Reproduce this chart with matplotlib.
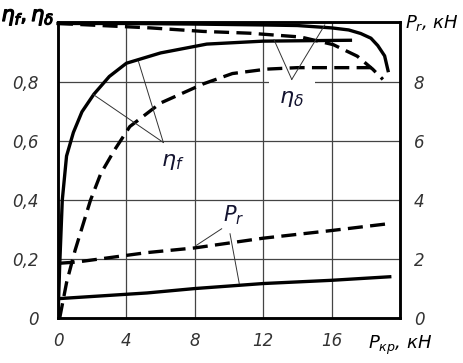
import matplotlib
matplotlib.use("Agg")
import matplotlib.pyplot as plt
import matplotlib.patheffects as pe

# --- data (x: P_kr, kN; left axis: efficiency; right axis: P_r, kN) ---
eta_f_solid_x = [0, 0.1, 0.25, 0.5, 0.9, 1.4, 2.1, 3.0, 4.0, 6.0, 8.7, 12.0, 17.1]
eta_f_solid_y = [0, 0.18, 0.40, 0.55, 0.63, 0.70, 0.76, 0.82, 0.865, 0.90, 0.93, 0.94, 0.943]

eta_f_dash_x = [0.1, 0.5, 1.0, 1.9, 2.5, 3.3, 4.2, 6.0, 8.5, 10.2, 12.2, 14.0, 16.0, 18.7]
eta_f_dash_y = [0.0, 0.12, 0.23, 0.40, 0.49, 0.57, 0.65, 0.73, 0.795, 0.83, 0.845, 0.85, 0.85, 0.85]

eta_d_solid_x = [0, 4, 8, 12, 14, 16, 17, 17.7, 18.3, 18.7, 19.1, 19.3]
eta_d_solid_y = [1.0, 1.0, 0.998, 0.995, 0.993, 0.985, 0.978, 0.966, 0.95, 0.925, 0.89, 0.84]

eta_d_dash_x = [0, 5.4, 8.5, 11.2, 14.2, 16.1, 17.5, 18.4, 19.0]
eta_d_dash_y = [1.0, 0.985, 0.973, 0.967, 0.954, 0.928, 0.889, 0.845, 0.81]

pr_dash_x = [0.1, 1.1, 5.2, 8.0, 12.0, 16.0, 19.3]
pr_dash_y = [1.86, 1.9, 2.22, 2.38, 2.71, 2.97, 3.2]

pr_solid_x = [0.1, 5.2, 8.0, 12.0, 16.0, 19.4]
pr_solid_y = [0.66, 0.85, 1.0, 1.17, 1.28, 1.4]

x_ticks = [0, 4, 8, 12, 16]
x_tick_labels = ["0", "4", "8", "12", "16"]
left_ticks = [0, 0.2, 0.4, 0.6, 0.8]
left_tick_labels = ["0", "0,2", "0,4", "0,6", "0,8"]
right_ticks = [0, 2, 4, 6, 8]
right_tick_labels = ["0", "2", "4", "6", "8"]

fig = plt.figure(figsize=(4.64, 3.63), dpi=100)
ax = fig.add_axes([58/464, 1-318/363, (400-58)/464, (318-22)/363])
ax.set_xlim(0, 20)
ax.set_ylim(0, 1.005)
ax2 = ax.twinx()
ax2.set_ylim(0, 10.05)

lw = 2.4
dash = (0, (4.5, 2.2))
ax.plot(eta_f_solid_x, eta_f_solid_y, color="black", lw=lw, zorder=5)
ax.plot(eta_f_dash_x, eta_f_dash_y, color="black", lw=lw, ls=dash, zorder=5)
ax.plot(eta_d_solid_x, eta_d_solid_y, color="black", lw=lw, zorder=5, clip_on=False)
ax.plot(eta_d_dash_x, eta_d_dash_y, color="black", lw=lw, ls=dash, zorder=5, clip_on=False)
ax2.plot(pr_dash_x, pr_dash_y, color="black", lw=lw, ls=dash, zorder=5)
ax2.plot(pr_solid_x, pr_solid_y, color="black", lw=lw, zorder=5)

# grid
for xv in x_ticks[1:]:
    ax.axvline(xv, color="#444444", lw=0.9, zorder=1)
for yv in left_ticks[1:]:
    ax.axhline(yv, color="#444444", lw=0.9, zorder=1)

tick_font = dict(fontsize=12, style="italic", color="#333333", family="DejaVu Sans", fontweight="light")
ax.set_xticks(x_ticks)
ax.set_xticklabels(x_tick_labels, **tick_font)
ax.set_yticks(left_ticks)
ax.set_yticklabels(left_tick_labels, **tick_font)
ax2.set_yticks(right_ticks)
ax2.set_yticklabels(right_tick_labels, **tick_font)
ax.tick_params(axis="x", length=0, pad=10)
ax.tick_params(axis="y", length=0, pad=14)
ax2.tick_params(axis="y", length=0, pad=10)
for a in (ax, ax2):
    for s in a.spines.values():
        s.set_linewidth(1.8)
        s.set_color("black")

# leader lines
lead = dict(color="#333333", lw=0.7, zorder=6)
ax.plot([6.16, 2.06], [0.596, 0.759], **lead)
ax.plot([6.16, 4.70], [0.596, 0.872], **lead)
ax.plot([13.67, 12.63], [0.81, 0.945], **lead)
ax.plot([13.67, 15.6], [0.81, 0.995], **lead)
ax2.plot([9.57, 8.1], [3.03, 2.47], **lead)
ax2.plot([10.06, 10.6], [2.86, 1.17], **lead)

lab_col = "#141430"
ax.text(6.7, 0.53, r"$\eta_f$", fontsize=16, color=lab_col, ha="center", va="center", zorder=7)
ax.text(13.67, 0.745, r"$\eta_\delta$", fontsize=16, color=lab_col, ha="center", va="center", zorder=4,
        bbox=dict(facecolor="white", edgecolor="none", pad=7.5))
ax2.text(10.3, 3.5, r"$P_r$", fontsize=15, color=lab_col, ha="center", va="center", zorder=7)

thick = [pe.withStroke(linewidth=0.9, foreground="black")]
fig.text(28/464, 1-17/363, r"$\eta_f, \eta_\delta$", fontsize=15, ha="center", va="center",
         path_effects=thick)
fig.text(432/464, 1-23/363, r"$P_r$, кН", fontsize=13, style="italic", ha="center", va="center")
fig.text(400/464, 1-345/363, r"$P_{кр}$, кН", fontsize=13, style="italic", ha="center", va="center")

fig.savefig("out.png", dpi=100, facecolor="white")
